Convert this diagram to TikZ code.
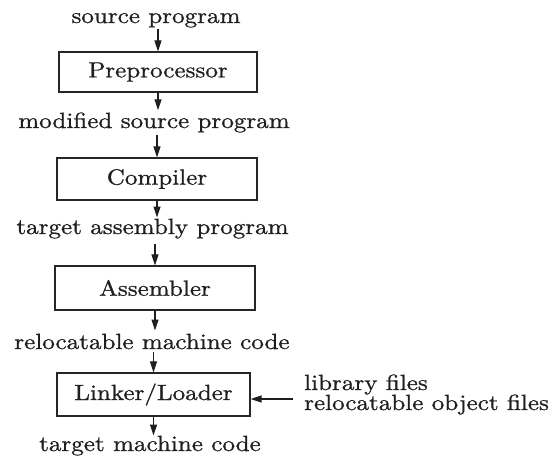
\documentclass[tikz,border=0pt]{standalone}
\usepackage{graphicx}
\usepackage{fontspec}
\usetikzlibrary{arrows.meta}
% the 10pt design of Latin Modern, enlarged and slightly heavier, for all labels
\newfontfamily\figfont{lmroman10-regular}[Extension=.otf, FakeBold=0.8]
% horizontally widened text, as in the printed figure
\newcommand\hstretch[1]{\scalebox{1.14}[1]{#1}}
\begin{document}
\begin{tikzpicture}[x=1pt,y=-1pt,
  label/.style={inner sep=0pt, anchor=base, text=black!88,
                font=\figfont\fontsize{22}{24}\selectfont},
  stagebox/.style={draw=black!85, line width=1.3pt, inner sep=0pt,
                   text=black!88, font=\figfont\fontsize{22}{24}\selectfont},
  flow/.style={draw=black!88, line width=1.1pt,
               -{Triangle[length=11pt,width=7pt]}}]
\useasboundingbox (0,0) rectangle (553,455);
\fill[white] (0,0) rectangle (553,455);

% stages
\node[stagebox, minimum width=198pt, minimum height=40pt] (pre)  at (158,72)    {\hstretch{Preprocessor}};
\node[stagebox, minimum width=200pt, minimum height=42pt] (comp) at (157,179)   {\hstretch{Compiler}};
\node[stagebox, minimum width=200pt, minimum height=44pt] (asm)  at (155,288)   {\hstretch{Assembler}};
\node[stagebox, minimum width=193pt, minimum height=43pt] (link) at (153.5,394.5) {\hstretch{Linker/Loader}};

% data between the stages
\node[label] (src)   at (156,23)  {\hstretch{source program}};
\node[label] (mod)   at (154,128) {\hstretch{modified source program}};
\node[label] (tasm)  at (152.5,234) {\hstretch{target assembly program}};
\node[label] (reloc) at (152,349) {\hstretch{relocatable machine code}};
\node[label] (tmc)   at (150,451) {\hstretch{target machine code}};

% extra inputs of the linker
\node[label, anchor=base west] (lib1) at (304,390) {\hstretch{library files}};
\node[label, anchor=base west] (lib2) at (304,410) {\hstretch{relocatable object files}};
\coordinate (libin) at (293,399);

% flow arrows
\draw[flow, shorten <=1pt] (src.south -| pre.north) -- (pre.north);
\draw[flow, shorten >=2pt] (pre.south) -- (pre.south |- mod.north);
\draw[flow, shorten <=2.5pt] (mod.south -| comp.north) -- (comp.north);
\draw[flow, shorten >=1pt] (comp.south) -- (comp.south |- tasm.north);
\draw[flow, shorten <=5pt] (tasm.south -| asm.north) -- (asm.north);
\draw[flow, shorten >=3pt] (asm.south) -- (asm.south |- reloc.north);
\draw[flow, shorten <=3pt] (reloc.south -| link.north) -- (link.north);
\draw[flow] (link.south) -- (link.south |- tmc.north);
\draw[flow] (libin) -- (libin -| link.east);
\end{tikzpicture}
\end{document}
